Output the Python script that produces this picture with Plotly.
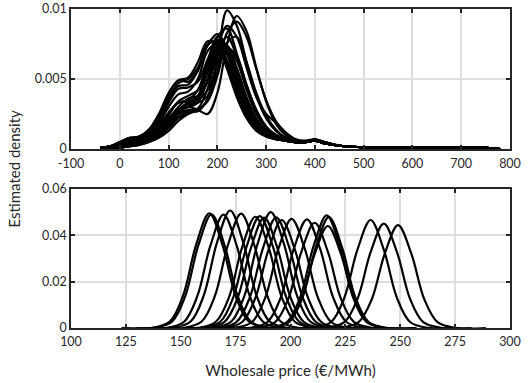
import plotly.graph_objects as go

# ---------------- Top panel: estimated densities (values in units of 1e-4) ----------------
top_price_grid = [-40, -20, 0, 20, 40, 60, 80, 100, 120, 140, 160, 180, 200, 220, 240, 260,
                  280, 300, 320, 340, 360, 380, 400, 420, 460, 540, 640, 740, 780]

top_density_e4 = [
    [0, 0, 1, 2, 4, 6, 10, 17, 26, 32, 33, 38, 65, 99, 88, 62, 38, 22, 13, 8, 6, 5, 6, 4, 2, 1, 1, 1, 0],
    [0, 0, 1, 2, 3, 5, 9, 16, 25, 30, 28, 25, 40, 75, 95, 84, 58, 34, 18, 10, 6, 5, 6, 4, 2, 1, 1, 1, 0],
    [0, 0, 1, 2, 4, 7, 11, 18, 27, 33, 35, 42, 60, 83, 91, 80, 57, 35, 20, 11, 7, 6, 7, 5, 2, 1, 1, 1, 0],
    [0, 1, 2, 3, 5, 8, 13, 21, 30, 36, 38, 48, 72, 88, 80, 58, 37, 25, 19, 12, 7, 5, 6, 4, 2, 1, 1, 1, 0],
    [0, 1, 2, 4, 6, 9, 15, 24, 34, 38, 42, 56, 80, 86, 68, 45, 27, 16, 10, 7, 5, 5, 6, 4, 2, 1, 1, 1, 0],
    [1, 2, 4, 7, 9, 13, 22, 36, 47, 50, 58, 74, 82, 72, 50, 31, 19, 12, 8, 6, 5, 5, 7, 5, 2, 1, 1, 1, 0],
    [1, 2, 5, 8, 9, 14, 25, 40, 49, 51, 62, 77, 74, 57, 37, 22, 13, 9, 7, 6, 5, 5, 6, 4, 2, 1, 1, 1, 0],
    [1, 2, 4, 7, 8, 12, 21, 35, 45, 46, 56, 75, 76, 60, 40, 24, 14, 9, 7, 6, 5, 5, 6, 4, 2, 1, 1, 1, 0],
    [0, 1, 3, 5, 7, 11, 18, 30, 39, 41, 50, 70, 75, 63, 43, 26, 15, 10, 7, 6, 5, 5, 6, 4, 2, 1, 1, 1, 0],
    [0, 1, 2, 4, 6, 9, 15, 25, 33, 35, 42, 62, 80, 72, 50, 30, 18, 11, 8, 6, 5, 5, 6, 4, 2, 1, 1, 1, 0],
    [0, 1, 3, 5, 7, 10, 16, 26, 33, 34, 38, 60, 78, 68, 46, 28, 16, 10, 7, 6, 5, 5, 7, 5, 2, 1, 1, 1, 0],
    [0, 1, 2, 4, 5, 8, 13, 21, 28, 30, 33, 50, 72, 74, 55, 34, 20, 12, 8, 6, 5, 5, 6, 4, 2, 1, 1, 1, 0],
    [0, 0, 1, 3, 5, 7, 11, 18, 25, 28, 29, 43, 66, 73, 58, 37, 22, 13, 8, 6, 5, 5, 6, 4, 2, 1, 1, 1, 0],
    [0, 0, 1, 2, 4, 6, 10, 16, 23, 27, 27, 36, 60, 73, 63, 42, 25, 15, 9, 6, 5, 5, 6, 4, 2, 1, 1, 1, 0],
    [0, 0, 1, 2, 4, 6, 9, 15, 22, 26, 28, 35, 55, 72, 66, 46, 28, 16, 10, 7, 5, 5, 6, 4, 2, 1, 1, 1, 0],
    [1, 2, 4, 6, 8, 11, 19, 33, 43, 44, 48, 64, 78, 68, 47, 29, 17, 11, 8, 6, 5, 5, 6, 4, 2, 1, 1, 1, 0],
    [1, 2, 5, 8, 9, 14, 24, 39, 49, 48, 56, 74, 77, 63, 42, 25, 15, 10, 7, 6, 5, 5, 6, 4, 2, 1, 1, 1, 0],
    [0, 1, 2, 4, 6, 9, 14, 22, 28, 30, 36, 55, 74, 69, 50, 31, 19, 12, 8, 6, 5, 5, 6, 4, 2, 1, 1, 1, 0],
    [0, 0, 1, 2, 3, 5, 8, 13, 20, 25, 28, 34, 52, 76, 80, 62, 40, 24, 14, 8, 6, 5, 6, 4, 2, 1, 1, 1, 0],
    [0, 1, 2, 3, 5, 8, 12, 20, 28, 33, 36, 48, 70, 80, 66, 44, 26, 15, 9, 6, 5, 5, 6, 4, 2, 1, 1, 1, 0],
]

# ---------------- Bottom panel: estimated densities ----------------
bottom_prices = [
    [123, 137, 145, 151, 157, 163, 169, 175, 181, 189, 203],
    [124, 138, 146, 152, 158, 164, 170, 176, 182, 190, 204],
    [129.5, 143.5, 151.5, 157.5, 163.5, 169.5, 175.5, 181.5, 187.5, 195.5, 209.5],
    [132.5, 146.5, 154.5, 160.5, 166.5, 172.5, 178.5, 184.5, 190.5, 198.5, 212.5],
    [137.5, 151.5, 159.5, 165.5, 171.5, 177.5, 183.5, 189.5, 195.5, 203.5, 217.5],
    [144, 158, 166, 172, 178, 184, 190, 196, 202, 210, 224],
    [146, 160, 168, 174, 180, 186, 192, 198, 204, 212, 226],
    [148, 162, 170, 176, 182, 188, 194, 200, 206, 214, 228],
    [151, 165, 173, 179, 185, 191, 197, 203, 209, 217, 231],
    [153.5, 167.5, 175.5, 181.5, 187.5, 193.5, 199.5, 205.5, 211.5, 219.5, 233.5],
    [156, 170, 178, 184, 190, 196, 202, 208, 214, 222, 236],
    [160.5, 174.5, 182.5, 188.5, 194.5, 200.5, 206.5, 212.5, 218.5, 226.5, 240.5],
    [167.5, 181.5, 189.5, 195.5, 201.5, 207.5, 213.5, 219.5, 225.5, 233.5, 247.5],
    [171, 185, 193, 199, 205, 211, 217, 223, 229, 237, 251],
    [176.5, 190.5, 198.5, 204.5, 210.5, 216.5, 222.5, 228.5, 234.5, 242.5, 256.5],
    [177.5, 191.5, 199.5, 205.5, 211.5, 217.5, 223.5, 229.5, 235.5, 243.5, 257.5],
    [177, 191, 199, 205, 211, 217, 223, 229, 235, 243, 257],
    [196.5, 210.5, 218.5, 224.5, 230.5, 236.5, 242.5, 248.5, 254.5, 262.5, 276.5],
    [202.5, 216.5, 224.5, 230.5, 236.5, 242.5, 248.5, 254.5, 260.5, 268.5, 282.5],
    [209, 223, 231, 237, 243, 249, 255, 261, 267, 275, 289],
]

bottom_density = [
    [0, 0.0001, 0.0028, 0.0138, 0.0359, 0.0495, 0.0359, 0.0138, 0.0028, 0.0001, 0],
    [0, 0.0001, 0.0027, 0.0136, 0.0356, 0.0490, 0.0356, 0.0136, 0.0027, 0.0001, 0],
    [0, 0.0001, 0.0027, 0.0136, 0.0355, 0.0489, 0.0355, 0.0136, 0.0027, 0.0001, 0],
    [0, 0.0001, 0.0028, 0.0141, 0.0368, 0.0507, 0.0368, 0.0141, 0.0028, 0.0001, 0],
    [0, 0.0001, 0.0028, 0.0137, 0.0358, 0.0493, 0.0358, 0.0137, 0.0028, 0.0001, 0],
    [0, 0.0001, 0.0027, 0.0133, 0.0349, 0.0480, 0.0349, 0.0133, 0.0027, 0.0001, 0],
    [0, 0.0001, 0.0027, 0.0134, 0.0351, 0.0483, 0.0351, 0.0134, 0.0027, 0.0001, 0],
    [0, 0.0001, 0.0027, 0.0132, 0.0346, 0.0476, 0.0346, 0.0132, 0.0027, 0.0001, 0],
    [0, 0.0001, 0.0028, 0.0139, 0.0363, 0.0500, 0.0363, 0.0139, 0.0028, 0.0001, 0],
    [0, 0.0001, 0.0027, 0.0133, 0.0346, 0.0477, 0.0346, 0.0133, 0.0027, 0.0001, 0],
    [0, 0.0001, 0.0026, 0.0130, 0.0338, 0.0466, 0.0338, 0.0130, 0.0026, 0.0001, 0],
    [0, 0.0001, 0.0026, 0.0131, 0.0342, 0.0471, 0.0342, 0.0131, 0.0026, 0.0001, 0],
    [0, 0.0001, 0.0026, 0.0130, 0.0341, 0.0469, 0.0341, 0.0130, 0.0026, 0.0001, 0],
    [0, 0.0001, 0.0025, 0.0126, 0.0330, 0.0454, 0.0330, 0.0126, 0.0025, 0.0001, 0],
    [0, 0.0001, 0.0027, 0.0135, 0.0353, 0.0486, 0.0353, 0.0135, 0.0027, 0.0001, 0],
    [0, 0.0001, 0.0027, 0.0133, 0.0347, 0.0478, 0.0347, 0.0133, 0.0027, 0.0001, 0],
    [0, 0.0001, 0.0025, 0.0122, 0.0319, 0.0440, 0.0319, 0.0122, 0.0025, 0.0001, 0],
    [0, 0.0001, 0.0026, 0.0130, 0.0338, 0.0466, 0.0338, 0.0130, 0.0026, 0.0001, 0],
    [0, 0.0001, 0.0025, 0.0125, 0.0327, 0.0450, 0.0327, 0.0125, 0.0025, 0.0001, 0],
    [0, 0.0001, 0.0025, 0.0123, 0.0322, 0.0444, 0.0322, 0.0123, 0.0025, 0.0001, 0],
]

top_xticks = [-100, 0, 100, 200, 300, 400, 500, 600, 700, 800]
top_xticktext = ["-100", "0", "100", "200", "300", "400", "500", "600", "700", "800"]
top_yticks = [0, 0.005, 0.01]
top_yticktext = ["0", "0.005", "0.01"]
bottom_xticks = [100, 125, 150, 175, 200, 225, 250, 275, 300]
bottom_xticktext = ["100", "125", "150", "175", "200", "225", "250", "275", "300"]
bottom_yticks = [0, 0.02, 0.04, 0.06]
bottom_yticktext = ["0", "0.02", "0.04", "0.06"]

FONT = "Lato, 'Open Sans', sans-serif"
AX = "#262626"
GRID = "#dedede"

fig = go.Figure()

for row in top_density_e4:
    fig.add_trace(go.Scatter(
        x=top_price_grid, y=[v * 1e-4 for v in row], mode="lines",
        line=dict(color="black", width=2.2, shape="spline", smoothing=1.0),
        xaxis="x", yaxis="y", hoverinfo="skip", showlegend=False))

for xs, ys in zip(bottom_prices, bottom_density):
    fig.add_trace(go.Scatter(
        x=xs, y=ys, mode="lines",
        line=dict(color="black", width=2.2, shape="spline", smoothing=1.0),
        xaxis="x2", yaxis="y2", hoverinfo="skip", showlegend=False))

common = dict(showline=True, linecolor=AX, linewidth=1.5, mirror="ticks",
              ticks="inside", ticklen=4, tickwidth=1.5, tickcolor=AX,
              showgrid=True, gridcolor=GRID, gridwidth=1.5, zeroline=False,
              automargin=False,
              tickfont=dict(family=FONT, size=12.5, color=AX))

top_dom = [0.561, 1.0]
bot_dom = [0.0, 0.436]

fig.update_layout(
    width=529, height=383,
    margin=dict(l=71, r=19, t=9, b=55),
    paper_bgcolor="white", plot_bgcolor="white",
    font=dict(family=FONT, color=AX),
    xaxis=dict(range=[-100, 800], tickvals=top_xticks, ticktext=top_xticktext,
               anchor="y", ticklabelstandoff=2, **common),
    yaxis=dict(range=[0, 0.01], tickvals=top_yticks, ticktext=top_yticktext,
               domain=top_dom, anchor="x", **common),
    xaxis2=dict(range=[100, 300], tickvals=bottom_xticks, ticktext=bottom_xticktext,
                anchor="y2", ticklabelstandoff=1,
                title=dict(text="Wholesale price (€/MWh)", font=dict(family=FONT, size=15, color=AX), standoff=18),
                **common),
    yaxis2=dict(range=[0, 0.06], tickvals=bottom_yticks, ticktext=bottom_yticktext,
                domain=bot_dom, anchor="x2", **common),
    annotations=[dict(text="Estimated density", xref="paper", yref="paper",
                      x=-0.132, y=0.5, xanchor="center", yanchor="middle",
                      textangle=-90, showarrow=False,
                      font=dict(family=FONT, size=15, color=AX))],
    hovermode=False,
)

# remove the default page margin so the figure sits at the window's top-left corner
fig.write_html("out.html", config={"displayModeBar": False},
               post_script="document.body.style.margin='0px';")
